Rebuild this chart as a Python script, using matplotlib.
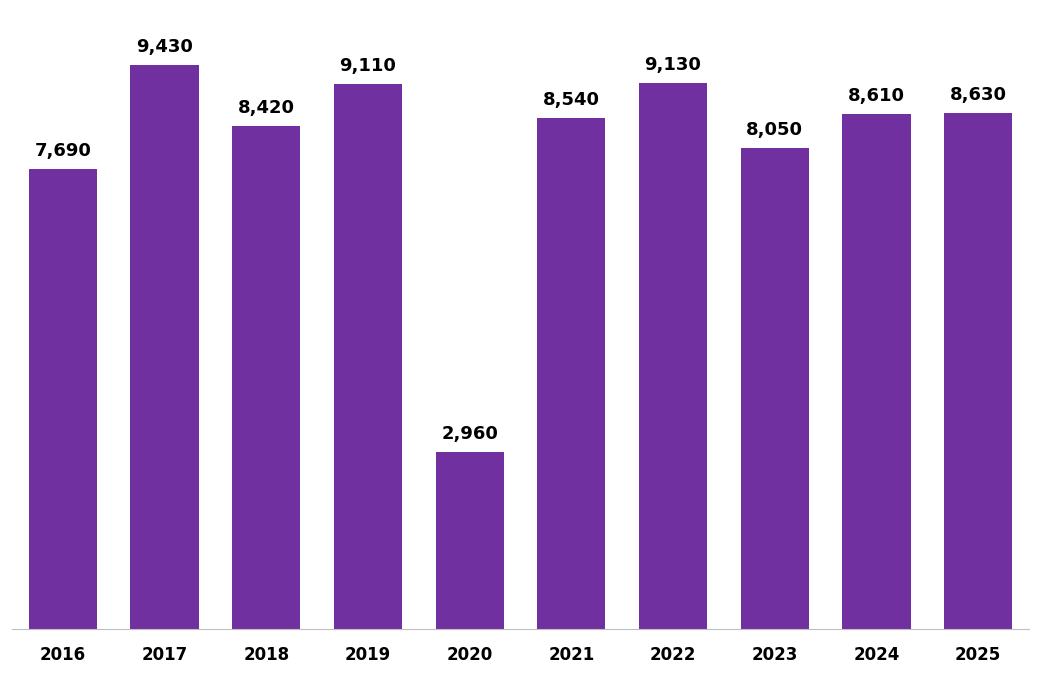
import matplotlib
matplotlib.use('Agg')
import matplotlib.pyplot as plt

years = ['2016', '2017', '2018', '2019', '2020', '2021', '2022', '2023', '2024', '2025']
values = [7690, 9430, 8420, 9110, 2960, 8540, 9130, 8050, 8610, 8630]

PURPLE = '#7030A0'

fig = plt.figure(figsize=(10.42, 6.81), dpi=100)
ax = fig.add_axes([12 / 1042, 1 - 629 / 681, 1017 / 1042, 629 / 681])

x = range(len(years))
bars = ax.bar(x, values, width=0.67, color=PURPLE)
for xi, v in zip(x, values):
    ax.text(xi, v + 150, f'{v:,}', ha='center', va='bottom',
            fontsize=13, fontweight='bold', color='black')

ax.set_xlim(-0.5, len(years) - 0.5)
ax.set_ylim(0, 10520)
ax.set_xticks(list(x))
ax.set_xticklabels(years, fontsize=12, fontweight='bold')
ax.tick_params(axis='x', length=0, pad=12)
ax.set_yticks([])
for s in ['top', 'right', 'left']:
    ax.spines[s].set_visible(False)
ax.spines['bottom'].set_color('#bfbfbf')

fig.savefig('out.png', dpi=100, facecolor='white')
